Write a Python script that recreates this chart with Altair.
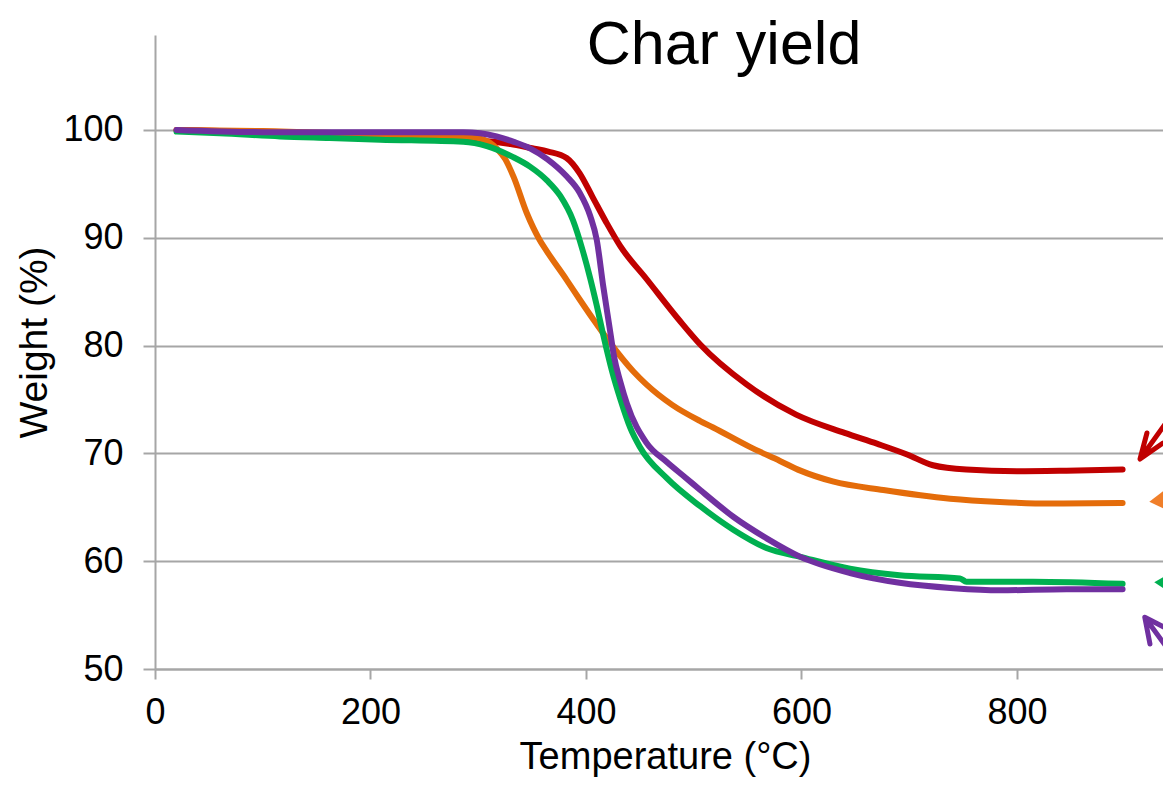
import altair as alt
import pandas as pd

TITLE = "Char yield"
X_TITLE = "Temperature (°C)"
Y_TITLE = "Weight (%)"
X_TICKS = [0, 200, 400, 600, 800]
Y_TICKS = [50, 60, 70, 80, 90, 100]

red_T = [20, 60, 100, 150, 200, 250, 300, 330, 350, 365, 382, 394, 406, 419, 432, 456, 487, 506, 549, 595, 640, 670, 698, 722, 753, 800, 846, 898]
red_W = [100.0, 99.9, 99.7, 99.5, 99.3, 99.1, 99.0, 98.7, 98.3, 98.0, 97.4, 96.0, 93.8, 91.4, 89.2, 86.2, 82.3, 80.1, 76.4, 73.6, 71.9, 70.9, 69.9, 68.9, 68.5, 68.35, 68.4, 68.5]

orange_T = [20, 100, 200, 286, 302, 317, 325, 333, 345, 357, 364, 382, 394, 407, 422, 444, 456, 480, 506, 518, 552, 580, 599, 629, 676, 738, 784, 831, 898]
orange_W = [100.0, 99.9, 99.6, 99.4, 99.2, 98.3, 97.3, 95.6, 92.3, 89.8, 88.7, 86.1, 84.3, 82.4, 80.3, 77.6, 76.4, 74.5, 73.0, 72.4, 70.6, 69.3, 68.4, 67.4, 66.6, 65.8, 65.5, 65.35, 65.4]

green_T = [20, 60, 116, 162, 209, 286, 308, 332, 348, 364, 376, 388, 397, 404, 410, 416, 424, 432, 441, 450, 475, 506, 537, 568, 599, 645, 691, 747, 753, 815, 898]
green_W = [99.85, 99.7, 99.4, 99.25, 99.1, 98.9, 98.5, 97.5, 96.6, 95.3, 93.9, 91.6, 88.8, 86.2, 83.7, 81.0, 77.7, 75.0, 72.4, 70.6, 67.7, 65.1, 62.9, 61.2, 60.4, 59.3, 58.7, 58.4, 58.1, 58.1, 57.9]

purple_T = [20, 100, 209, 286, 302, 317, 333, 348, 364, 382, 394, 404, 410, 416, 422, 426, 432, 438, 456, 475, 493, 506, 537, 568, 599, 645, 691, 741, 784, 846, 898]
purple_W = [100.0, 99.8, 99.8, 99.8, 99.7, 99.4, 98.9, 98.3, 97.3, 95.7, 94.2, 92.0, 89.8, 85.5, 81.6, 79.0, 76.6, 74.6, 71.0, 69.2, 67.7, 66.6, 64.1, 62.1, 60.4, 58.9, 58.0, 57.5, 57.3, 57.4, 57.4]

SERIES = [
    ("red", red_T, red_W, "#C00000"),
    ("orange", orange_T, orange_W, "#E46C0A"),
    ("green", green_T, green_W, "#00B050"),
    ("purple", purple_T, purple_W, "#7030A0"),
]

# arrow annotations at right edge (partially cropped in the original)
red_arrow_T = [920.6, 914.2, 935.5, 914.2, 942.9]
red_arrow_W = [71.89, 69.48, 70.96, 69.48, 73.47]
purple_arrow_T = [923.4, 918.6, 940.4, 918.6, 942.9]
purple_arrow_W = [52.32, 54.80, 53.68, 54.80, 51.48]
orange_head_T = [922.8, 942.9]
orange_head_top = [65.52, 67.07]
orange_head_bot = [65.52, 64.56]
green_head_T = [927.4, 942.9]
green_head_top = [58.04, 58.93]
green_head_bot = [58.04, 57.02]

FONT = "Liberation Sans"
GRID = "#a6a6a6"
X_DOMAIN = [0, 935.5]
Y_DOMAIN = [50, 108.81]

xscale = alt.Scale(domain=X_DOMAIN, nice=False, zero=False)
yscale = alt.Scale(domain=Y_DOMAIN, nice=False, zero=False)

xaxis = alt.Axis(values=X_TICKS, title=X_TITLE, grid=False, domainColor=GRID, domainWidth=2,
                 tickColor=GRID, tickWidth=2, tickSize=10, labelFontSize=36, labelPadding=16,
                 labelFont=FONT, labelColor="#000000", titleFont=FONT, titleFontSize=38,
                 titleFontWeight="normal", titleColor="#000000", titlePadding=8, labelFlush=False,
                 titleX=510)
yaxis = alt.Axis(values=Y_TICKS, title=Y_TITLE, grid=True, gridColor=GRID, gridWidth=2,
                 domainColor=GRID, domainWidth=2, tickColor=GRID, tickWidth=2, tickSize=12,
                 labelFontSize=36, labelPadding=20, labelFont=FONT, labelColor="#000000",
                 titleFont=FONT, titleFontSize=39, titleFontWeight="normal", titleColor="#000000",
                 titlePadding=8, titleY=307)


def X(field):
    return alt.X(field, scale=xscale, axis=xaxis, title=X_TITLE)


def Y(field):
    return alt.Y(field, scale=yscale, axis=yaxis, title=Y_TITLE)


layers = []
for name, T, W, col in SERIES:
    df = pd.DataFrame({"T": T, "W": W})
    layers.append(
        alt.Chart(df).mark_line(color=col, strokeWidth=6, strokeCap="round", strokeJoin="round",
                                interpolate="monotone").encode(x=X("T:Q"), y=Y("W:Q"))
    )

for T, W, col in [(red_arrow_T, red_arrow_W, "#C00000"), (purple_arrow_T, purple_arrow_W, "#7030A0")]:
    df = pd.DataFrame({"T": T, "W": W, "o": list(range(len(T)))})
    layers.append(
        alt.Chart(df).mark_line(color=col, strokeWidth=5, strokeCap="round", strokeJoin="round",
                                clip=True).encode(x=X("T:Q"), y=Y("W:Q"), order="o:Q")
    )

for T, top, bot, col in [(orange_head_T, orange_head_top, orange_head_bot, "#F07F2A"),
                         (green_head_T, green_head_top, green_head_bot, "#00B050")]:
    df = pd.DataFrame({"T": T, "W": top, "bot": bot})
    layers.append(
        alt.Chart(df).mark_area(color=col, clip=True, orient="vertical").encode(
            x=X("T:Q"), y=Y("W:Q"), y2="bot:Q")
    )

title_df = pd.DataFrame({"t": [TITLE]})
layers.append(
    alt.Chart(title_df).mark_text(font=FONT, fontSize=61, color="#000000", align="center",
                                  baseline="alphabetic").encode(
        text="t:N", x=alt.value(569), y=alt.value(29))
)

chart = alt.layer(*layers).properties(
    width=1008, height=634, autosize="none",
    padding={"left": 147, "top": 27, "right": 0, "bottom": 108},
    background="white",
).configure_view(stroke=None)

chart.save("out.html", embed_options={"renderer": "svg", "actions": False})
